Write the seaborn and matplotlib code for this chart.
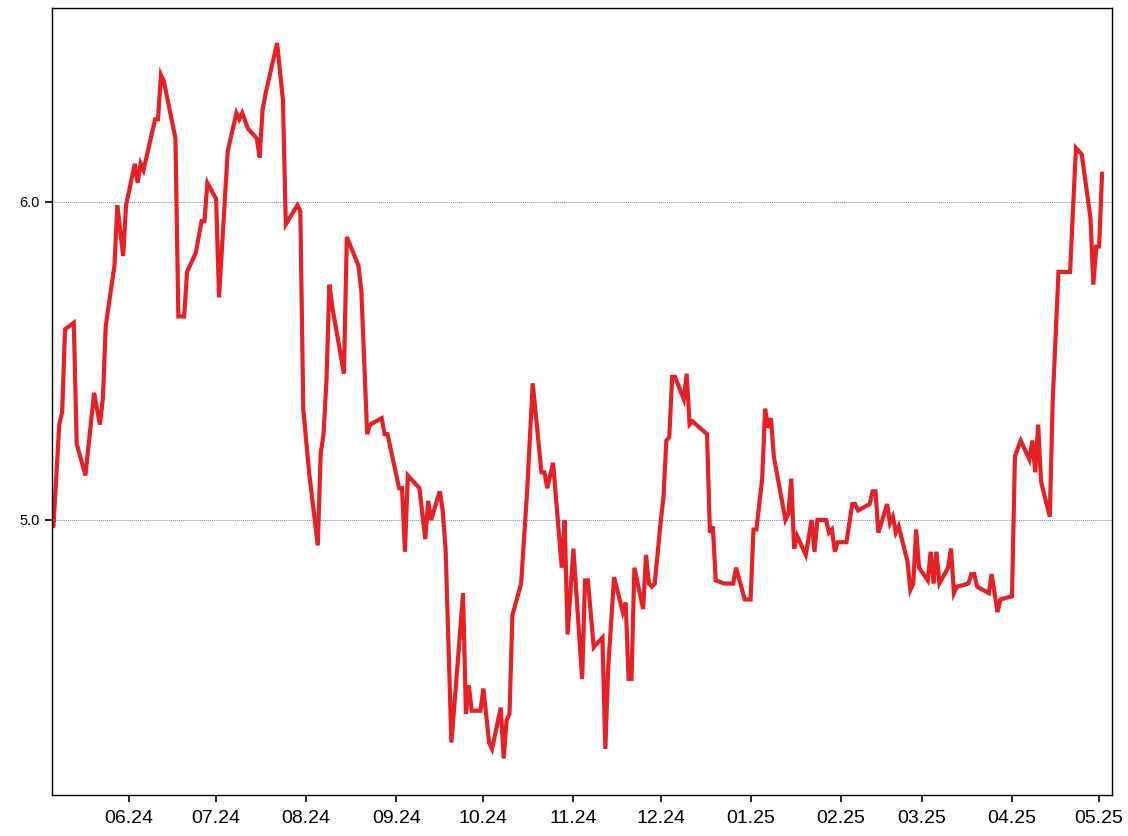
import matplotlib
matplotlib.use("Agg")
import matplotlib.pyplot as plt
import pandas as pd
import seaborn as sns

dates = [
    "2024-05-06", "2024-05-08", "2024-05-09", "2024-05-10", "2024-05-13", "2024-05-14",
    "2024-05-17", "2024-05-20", "2024-05-22", "2024-05-23", "2024-05-24", "2024-05-27",
    "2024-05-28", "2024-05-30", "2024-05-31", "2024-06-03", "2024-06-04", "2024-06-05",
    "2024-06-06", "2024-06-10", "2024-06-11", "2024-06-12", "2024-06-13", "2024-06-17",
    "2024-06-18", "2024-06-20", "2024-06-21", "2024-06-24", "2024-06-26", "2024-06-27",
    "2024-06-28", "2024-07-01", "2024-07-02", "2024-07-05", "2024-07-08", "2024-07-09",
    "2024-07-10", "2024-07-12", "2024-07-15", "2024-07-16", "2024-07-17", "2024-07-18",
    "2024-07-19", "2024-07-22", "2024-07-24", "2024-07-25", "2024-07-29", "2024-07-30",
    "2024-07-31", "2024-08-02", "2024-08-05", "2024-08-06", "2024-08-07", "2024-08-08",
    "2024-08-09", "2024-08-10", "2024-08-14", "2024-08-15", "2024-08-19", "2024-08-20",
    "2024-08-22", "2024-08-23", "2024-08-27", "2024-08-28", "2024-08-29", "2024-09-02",
    "2024-09-03", "2024-09-04", "2024-09-05", "2024-09-09", "2024-09-11", "2024-09-12",
    "2024-09-13", "2024-09-16", "2024-09-17", "2024-09-18", "2024-09-20", "2024-09-22",
    "2024-09-24", "2024-09-25", "2024-09-26", "2024-09-27", "2024-09-30", "2024-10-01",
    "2024-10-03", "2024-10-04", "2024-10-07", "2024-10-08", "2024-10-09", "2024-10-10",
    "2024-10-11", "2024-10-14", "2024-10-16", "2024-10-18", "2024-10-21", "2024-10-22",
    "2024-10-23", "2024-10-25", "2024-10-28", "2024-10-29", "2024-10-30", "2024-11-01",
    "2024-11-04", "2024-11-05", "2024-11-06", "2024-11-08", "2024-11-11", "2024-11-12",
    "2024-11-13", "2024-11-15", "2024-11-18", "2024-11-19", "2024-11-20", "2024-11-21",
    "2024-11-22", "2024-11-25", "2024-11-26", "2024-11-27", "2024-11-28", "2024-11-29",
    "2024-12-01", "2024-12-02", "2024-12-03", "2024-12-04", "2024-12-05", "2024-12-06",
    "2024-12-09", "2024-12-10", "2024-12-11", "2024-12-12", "2024-12-17", "2024-12-18",
    "2024-12-19", "2024-12-20", "2024-12-23", "2024-12-26", "2024-12-27", "2024-12-30",
    "2025-01-01", "2025-01-02", "2025-01-03", "2025-01-05", "2025-01-06", "2025-01-07",
    "2025-01-08", "2025-01-09", "2025-01-13", "2025-01-14", "2025-01-15", "2025-01-16",
    "2025-01-17", "2025-01-20", "2025-01-22", "2025-01-23", "2025-01-24", "2025-01-27",
    "2025-01-28", "2025-01-29", "2025-01-30", "2025-01-31", "2025-02-03", "2025-02-05",
    "2025-02-06", "2025-02-07", "2025-02-11", "2025-02-12", "2025-02-13", "2025-02-14",
    "2025-02-17", "2025-02-18", "2025-02-19", "2025-02-20", "2025-02-21", "2025-02-24",
    "2025-02-25", "2025-02-26", "2025-02-27", "2025-02-28", "2025-03-03", "2025-03-04",
    "2025-03-05", "2025-03-06", "2025-03-07", "2025-03-10", "2025-03-11", "2025-03-12",
    "2025-03-13", "2025-03-17", "2025-03-18", "2025-03-19", "2025-03-20", "2025-03-24",
    "2025-03-25", "2025-03-27", "2025-03-28", "2025-04-01", "2025-04-02", "2025-04-04",
    "2025-04-07", "2025-04-08", "2025-04-09", "2025-04-10", "2025-04-11", "2025-04-14",
    "2025-04-15", "2025-04-17", "2025-04-21", "2025-04-23", "2025-04-25", "2025-04-28",
    "2025-04-29", "2025-04-30", "2025-05-01", "2025-05-02",
]

values = [
    4.98, 5.30, 5.34, 5.60, 5.62, 5.24,
    5.14, 5.40, 5.30, 5.38, 5.61, 5.80,
    5.99, 5.83, 5.99, 6.12, 6.06, 6.12,
    6.10, 6.26, 6.26, 6.40, 6.38, 6.20,
    5.64, 5.64, 5.78, 5.84, 5.94, 5.94,
    6.06, 6.01, 5.70, 6.16, 6.28, 6.26,
    6.28, 6.23, 6.20, 6.14, 6.29, 6.34,
    6.38, 6.50, 6.32, 5.93, 5.99, 5.97,
    5.35, 5.15, 4.92, 5.21, 5.27, 5.44,
    5.74, 5.67, 5.46, 5.89, 5.80, 5.72,
    5.27, 5.30, 5.32, 5.27, 5.27, 5.10,
    5.10, 4.90, 5.14, 5.10, 4.94, 5.06,
    5.00, 5.09, 5.03, 4.91, 4.30, 4.53,
    4.77, 4.39, 4.48, 4.40, 4.40, 4.47,
    4.30, 4.28, 4.41, 4.25, 4.37, 4.39,
    4.70, 4.80, 5.08, 5.43, 5.15, 5.15,
    5.10, 5.18, 4.85, 5.00, 4.64, 4.91,
    4.50, 4.81, 4.81, 4.60, 4.63, 4.28,
    4.54, 4.82, 4.71, 4.74, 4.50, 4.50,
    4.85, 4.72, 4.89, 4.80, 4.79, 4.80,
    4.99, 5.07, 5.25, 5.26, 5.45, 5.45,
    5.38, 5.46, 5.30, 5.31, 5.27, 4.96,
    4.98, 4.81, 4.80, 4.80, 4.85, 4.75,
    4.75, 4.97, 4.97, 5.13, 5.35, 5.29,
    5.32, 5.20, 5.00, 5.02, 5.13, 4.91,
    4.95, 4.89, 5.00, 4.90, 5.00, 5.00,
    4.96, 4.97, 4.90, 4.93, 4.93, 5.05,
    5.05, 5.03, 5.05, 5.09, 5.09, 4.96,
    5.05, 4.99, 5.01, 4.96, 4.98, 4.87,
    4.78, 4.80, 4.97, 4.85, 4.81, 4.90,
    4.80, 4.90, 4.80, 4.85, 4.91, 4.77,
    4.79, 4.80, 4.83, 4.83, 4.79, 4.77,
    4.83, 4.71, 4.75, 4.76, 5.20, 5.25,
    5.19, 5.25, 5.15, 5.30, 5.12, 5.01,
    5.37, 5.78, 5.78, 6.17, 6.15, 5.95,
    5.74, 5.86, 5.86, 6.09,
]

y_ticks = [5.0, 6.0]
y_tick_labels = ["5.0", "6.0"]
x_tick_dates = ["2024-06-01", "2024-07-01", "2024-08-01", "2024-09-01", "2024-10-01",
                "2024-11-01", "2024-12-01", "2025-01-01", "2025-02-01", "2025-03-01",
                "2025-04-01", "2025-05-01"]
x_tick_labels = ["06.24", "07.24", "08.24", "09.24", "10.24", "11.24", "12.24",
                 "01.25", "02.25", "03.25", "04.25", "05.25"]

df = pd.DataFrame({"date": pd.to_datetime(dates), "value": values})

sns.set_theme(style="ticks")
plt.rcParams["font.family"] = ["Liberation Sans", "DejaVu Sans"]

fig = plt.figure(figsize=(11.28, 8.36), dpi=100)
ax = fig.add_axes([0.0461, 0.049, 0.9397, 0.9414])

sns.lineplot(data=df, x="date", y="value", ax=ax, color="#e62024",
             linewidth=3.0, solid_joinstyle="miter")

ax.set_xlim(pd.Timestamp("2024-05-05 12:00"), pd.Timestamp("2025-05-05 10:00"))
ax.set_ylim(4.135, 6.61)

ax.set_yticks(y_ticks)
ax.set_yticklabels(y_tick_labels, fontsize=10.5)
ax.set_xticks(pd.to_datetime(x_tick_dates))
ax.set_xticklabels(x_tick_labels, fontsize=14)

ax.yaxis.grid(True, linestyle=(0, (1, 1)), color="#888888", linewidth=0.7)
ax.xaxis.grid(False)

for s in ax.spines.values():
    s.set_visible(True)
    s.set_color("black")
    s.set_linewidth(1.0)

ax.tick_params(axis="both", direction="out", length=5, width=1.2, color="black",
               labelcolor="black")
ax.tick_params(axis="y", pad=4)
ax.tick_params(axis="x", pad=6)
ax.set_xlabel("")
ax.set_ylabel("")

fig.savefig("out.png", dpi=100, facecolor="white")
